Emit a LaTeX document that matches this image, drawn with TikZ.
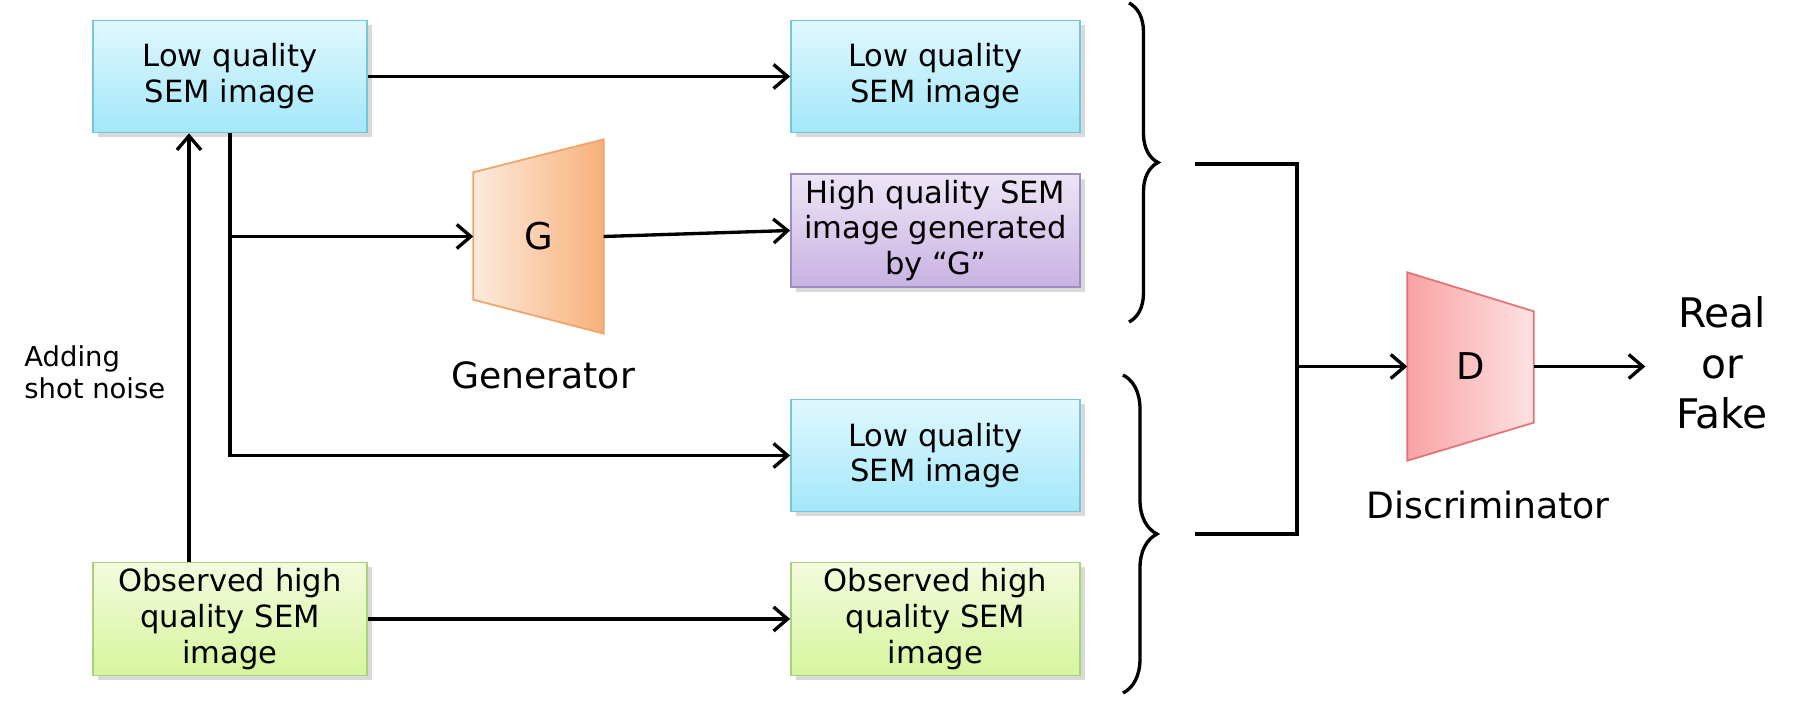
\documentclass[tikz,border=0pt]{standalone}
\usepackage{fontspec}
\setmainfont{DejaVu Sans}
\usetikzlibrary{arrows.meta, positioning, calc, backgrounds, shadows, decorations.pathreplacing}
\definecolor{SEMBlueTop}{HTML}{E0F8FE}
\definecolor{SEMBlueBottom}{HTML}{A3E7F9}
\definecolor{SEMBlueLine}{HTML}{75C6DA}
\definecolor{SEMPurpleTop}{HTML}{EDE5F6}
\definecolor{SEMPurpleBottom}{HTML}{C8B2E2}
\definecolor{SEMPurpleLine}{HTML}{A08CC4}
\definecolor{SEMGreenTop}{HTML}{F3FBDD}
\definecolor{SEMGreenBottom}{HTML}{D6F59E}
\definecolor{SEMGreenLine}{HTML}{A9D27A}
\definecolor{GenLight}{HTML}{FDEBDD}
\definecolor{GenDark}{HTML}{F7B07A}
\definecolor{GenLine}{HTML}{F2A56A}
\definecolor{DiscDark}{HTML}{F9A3A3}
\definecolor{DiscLight}{HTML}{FDE2E2}
\definecolor{DiscLine}{HTML}{E57373}
\tikzset{
    % Image boxes with soft shadow
    image box/.style={
        rectangle,
        line width=0.5pt,
        minimum width=2.89cm,
        minimum height=1.12cm,
        inner sep=1pt,
        align=center,
        font=\fontsize{8.7}{10.2}\selectfont,
        drop shadow={shadow xshift=0.5mm, shadow yshift=-0.5mm, opacity=0.25, fill=black!60}
    },
    image box blue/.style={
        image box,
        top color=SEMBlueTop,
        bottom color=SEMBlueBottom,
        draw=SEMBlueLine
    },
    image box purple/.style={
        image box,
        top color=SEMPurpleTop,
        bottom color=SEMPurpleBottom,
        draw=SEMPurpleLine
    },
    image box green/.style={
        image box,
        top color=SEMGreenTop,
        bottom color=SEMGreenBottom,
        draw=SEMGreenLine
    },
    net core/.style={
        rectangle,
        inner sep=0pt,
        font=\fontsize{10.5}{12}\selectfont
    },
    net label/.style={
        font=\fontsize{10.3}{12}\selectfont
    },
    arrow style/.style={
        -{Straight Barb[length=1.4mm,width=2.4mm]},
        line width=0.95pt,
        black
    },
    line style/.style={
        line width=0.95pt,
        black
    },
    brace style/.style={
        decorate,
        line width=0.95pt,
        black
    }
}
\begin{document}
\begin{tikzpicture}
    \useasboundingbox (0,0) rectangle (18,7.19);

    % Image boxes
    \node[image box blue, minimum width=2.74cm] (lqIn) at (2.30, 6.425) {Low quality\\SEM image};
    \node[image box blue] (lqOut) at (9.355, 6.425) {Low quality\\SEM image};
    \node[image box purple, minimum height=1.13cm] (hqGen) at (9.355, 4.885) {High quality SEM\\image generated\\by “G”};
    \node[image box blue] (lqReal) at (9.355, 2.635) {Low quality\\SEM image};
    \node[image box green, minimum width=2.74cm, minimum height=1.13cm] (hqObs) at (2.30, 1.00) {Observed high\\quality SEM\\image};
    \node[image box green, minimum height=1.13cm] (hqOut) at (9.355, 1.00) {Observed high\\quality SEM\\image};

    % Generator and discriminator
    \node[net core, minimum width=1.29cm, minimum height=1.93cm] (gen) at (5.385, 4.825) {G};
    \node[net core, minimum width=1.25cm, minimum height=1.87cm] (disc) at (14.705, 3.525) {D};
    \begin{scope}[on background layer]
        \shade[left color=GenLight, right color=GenDark, draw=GenLine, line width=0.5pt]
            ($(gen.north west)+(0,-0.33)$) -- (gen.north east) -- (gen.south east) -- ($(gen.south west)+(0,0.34)$) -- cycle;
        \shade[left color=DiscDark, right color=DiscLight, draw=DiscLine, line width=0.5pt]
            (disc.north west) -- ($(disc.north east)+(0,-0.39)$) -- ($(disc.south east)+(0,0.38)$) -- (disc.south west) -- cycle;
    \end{scope}

    % Labels
    \node[net label] (genName) at (5.43, 3.44) {Generator};
    \node[net label] (discName) at (14.88, 2.14) {Discriminator};
    \node[anchor=west, align=left, font=\fontsize{7.8}{9}\selectfont] (noise) at (0.12, 3.47) {Adding\\shot noise};
    \node[align=center, inner xsep=0.3cm, font=\fontsize{11.6}{14.3}\selectfont] (result) at (17.22, 3.56) {Real\\or\\Fake};

    % Connectors
    \draw[arrow style] ([xshift=-0.41cm]hqObs.north) -- ([xshift=-0.41cm]lqIn.south);
    \draw[arrow style] (lqIn.east) -- (lqOut.west);
    \draw[arrow style] (lqIn.south) |- (lqReal.west);
    \draw[arrow style] (lqIn.south |- gen.west) -- (gen.west);
    \draw[arrow style] (gen.east) -- (hqGen.west);
    \draw[arrow style] (hqObs.east) -- (hqOut.west);

    % Braces and merge
    \draw[brace style, decoration={brace, amplitude=2.9mm}] (11.29, 7.16) -- (11.29, 3.97);
    \draw[brace style, decoration={brace, amplitude=3.4mm}] (11.23, 3.44) -- (11.23, 0.26);
    \coordinate (fakePair) at (11.95, 5.55);
    \coordinate (realPair) at (11.95, 1.85);
    \coordinate (merge) at (12.97, 3.525);
    \draw[line style] (fakePair) -| (merge);
    \draw[line style] (realPair) -| (merge);
    \draw[arrow style] (merge) -- (disc.west);
    \draw[arrow style] (disc.east) -- (disc.east -| result.west);
\end{tikzpicture}
\end{document}
